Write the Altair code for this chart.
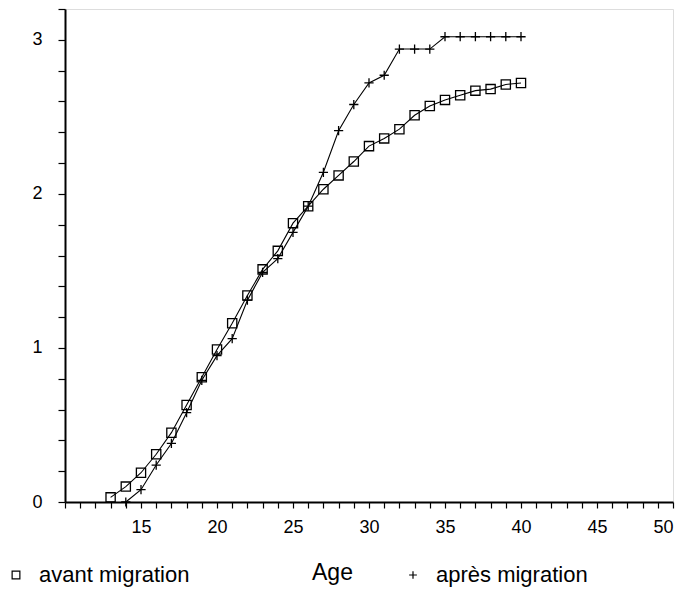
import altair as alt
import pandas as pd

# ---- data ----
ages_avant = list(range(13, 41))
avant = [0.03, 0.10, 0.19, 0.31, 0.45, 0.63, 0.81, 0.99, 1.16, 1.34,
         1.51, 1.63, 1.81, 1.92, 2.03, 2.12, 2.21, 2.31, 2.36, 2.42,
         2.51, 2.57, 2.61, 2.64, 2.67, 2.68, 2.71, 2.72]
ages_apres = list(range(14, 41))
apres = [0.00, 0.08, 0.24, 0.38, 0.58, 0.79, 0.95, 1.06, 1.31, 1.49,
         1.58, 1.75, 1.92, 2.14, 2.41, 2.58, 2.72, 2.77, 2.94, 2.94,
         2.94, 3.02, 3.02, 3.02, 3.02, 3.02, 3.02]
series_names = ["avant migration", "après migration"]
x_ticks = list(range(10, 51))
y_ticks = [round(i * 0.2, 1) for i in range(17)]

df = pd.concat([
    pd.DataFrame({"age": ages_avant, "val": avant, "serie": series_names[0]}),
    pd.DataFrame({"age": ages_apres, "val": apres, "serie": series_names[1]}),
])

FONT = "Liberation Sans"
cross_path = "M-1,0L1,0M0,-1L0,1"

x_enc = alt.X("age:Q", scale=alt.Scale(domain=[10, 50], nice=False),
              axis=alt.Axis(values=x_ticks, tickCount=100, labelOverlap=False,
                            labelExpr="datum.value % 5 == 0 && datum.value > 10 ? format(datum.value, 'd') : ''",
                            grid=False, tickSize=6, tickColor="black", tickWidth=1.2,
                            domainColor="black", domainWidth=2,
                            labelFont=FONT, labelFontSize=18, labelColor="black",
                            labelPadding=10, title="Age", titleFont=FONT,
                            titleFontSize=23, titleFontWeight="normal", titleColor="black",
                            titleX=267, titleY=70, titleBaseline="middle"))
y_enc = alt.Y("val:Q", scale=alt.Scale(domain=[0, 3.2], nice=False),
              axis=alt.Axis(values=y_ticks, tickCount=100, labelOverlap=False,
                            labelExpr="datum.value % 1 == 0 && datum.value < 3.1 ? format(datum.value, 'd') : ''",
                            grid=False, tickSize=7, tickColor="black", tickWidth=1.2,
                            domainColor="black", domainWidth=2,
                            labelFont=FONT, labelFontSize=18, labelColor="black",
                            labelPadding=16, title=None))

lines = alt.Chart(df).mark_line(color="black", strokeWidth=1.1).encode(
    x=x_enc, y=y_enc, detail="serie:N")

points = alt.Chart(df).mark_point(color="black", filled=False, strokeWidth=1.3,
                                  size=85, opacity=1).encode(
    x="age:Q", y="val:Q",
    shape=alt.Shape("serie:N",
                    scale=alt.Scale(domain=series_names, range=["square", cross_path]),
                    legend=alt.Legend(orient="none", legendX=-60, legendY=555,
                                      direction="horizontal", title=None,
                                      labelFont=FONT, labelFontSize=22, labelColor="black",
                                      symbolSize=60, symbolStrokeColor="black",
                                      symbolFillColor="transparent", symbolStrokeWidth=1.2,
                                      columnPadding=212, labelOffset=12)))

chart = (lines + points).properties(
    width=608, height=493,
    autosize=alt.AutoSizeParams(type="none"),
    padding={"left": 57, "top": 1, "right": 2, "bottom": 90},
).configure_view(stroke="black", strokeWidth=2).configure(background="white")

chart.save("out.html", embed_options={"renderer": "svg", "actions": False})
